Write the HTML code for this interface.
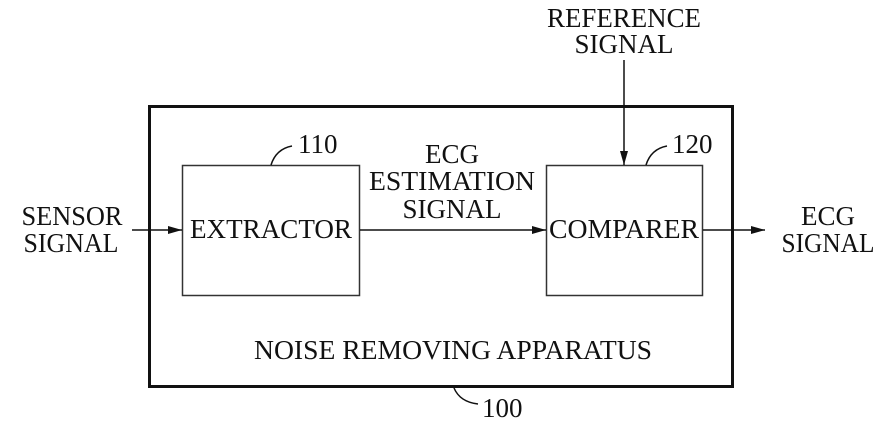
<!DOCTYPE html>
<html><head><style>
html,body{margin:0;padding:0;background:#fff;}
svg text{font-family:"Liberation Serif",serif;fill:#111;}
</style></head><body>
<svg width="877" height="440" viewBox="0 0 877 440" xmlns="http://www.w3.org/2000/svg">
<defs><marker id="a" markerWidth="14" markerHeight="8" refX="14" refY="4" orient="auto" markerUnits="userSpaceOnUse"><path d="M0,0 L14,4 L0,8 Z" fill="#111"/></marker></defs>
<rect x="149.5" y="106.5" width="583" height="280" fill="none" stroke="#111" stroke-width="3"/>
<rect x="182.5" y="165.5" width="177" height="130" fill="none" stroke="#333" stroke-width="1.5"/>
<rect x="546.5" y="165.5" width="156" height="130" fill="none" stroke="#333" stroke-width="1.5"/>
<g stroke="#111" stroke-width="1.5" fill="none">
<line x1="132" y1="230" x2="182" y2="230" marker-end="url(#a)"/>
<line x1="360" y1="230" x2="546" y2="230" marker-end="url(#a)"/>
<line x1="703" y1="230" x2="765" y2="230" marker-end="url(#a)"/>
<line x1="624" y1="60" x2="624" y2="165" marker-end="url(#a)"/>
<path d="M271,165 Q276,149 292,146"/>
<path d="M646,165 Q651,149 667,146"/>
<path d="M454,388 Q460,402 478,404"/>
</g>
<g font-size="27">
<text x="72" y="225" text-anchor="middle" textLength="101" lengthAdjust="spacingAndGlyphs">SENSOR</text>
<text x="71" y="252" text-anchor="middle" textLength="95" lengthAdjust="spacingAndGlyphs">SIGNAL</text>
<text x="828" y="225" text-anchor="middle">ECG</text>
<text x="828" y="252" text-anchor="middle" textLength="93" lengthAdjust="spacingAndGlyphs">SIGNAL</text>
<text x="624" y="27" text-anchor="middle" textLength="154" lengthAdjust="spacingAndGlyphs">REFERENCE</text>
<text x="624" y="53" text-anchor="middle">SIGNAL</text>
<text x="452" y="163" text-anchor="middle">ECG</text>
<text x="452" y="190" text-anchor="middle" textLength="166" lengthAdjust="spacingAndGlyphs">ESTIMATION</text>
<text x="452" y="218" text-anchor="middle">SIGNAL</text>
<text x="271" y="238" text-anchor="middle" textLength="162" lengthAdjust="spacingAndGlyphs">EXTRACTOR</text>
<text x="624" y="238" text-anchor="middle" textLength="150" lengthAdjust="spacingAndGlyphs">COMPARER</text>
<text x="453" y="359" text-anchor="middle" textLength="398" lengthAdjust="spacingAndGlyphs">NOISE REMOVING APPARATUS</text>
<text x="298" y="153">110</text>
<text x="672" y="153">120</text>
<text x="482" y="417">100</text>
</g>
</svg>
</body></html>
